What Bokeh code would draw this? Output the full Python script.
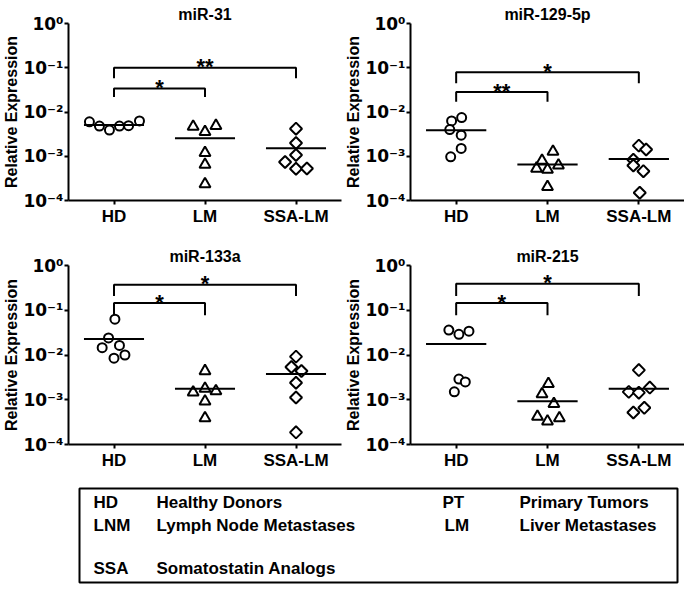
import numpy as np
from bokeh.plotting import figure
from bokeh.layouts import column, row
from bokeh.models import Range1d, FixedTicker, CustomJSTickFormatter
from bokeh.core.properties import value
from bokeh.embed import file_html
from bokeh.resources import INLINE

FONT = "Liberation Sans"
TICK_FONT = "DejaVu Sans"

groups = ["HD", "LM", "SSA-LM"]
titles = ["miR-31", "miR-129-5p", "miR-133a", "miR-215"]
y_ticks = [1e-4, 1e-3, 1e-2, 1e-1, 1.0]

# ---- data (relative expression) ----
mir31_hd = [6.0e-3, 4.8e-3, 3.9e-3, 4.8e-3, 4.9e-3, 6.3e-3]
mir31_lm = [4.7e-3, 3.55e-3, 4.9e-3, 1.2e-3, 6.5e-4, 2.35e-4]
mir31_ssa = [4.2e-3, 2.0e-3, 1.07e-3, 7.4e-4, 5.2e-4, 5.3e-4]

mir129_hd = [6.3e-3, 7.5e-3, 4.0e-3, 3.0e-3, 1.5e-3, 9.7e-4]
mir129_lm = [1.27e-3, 8.0e-4, 5.3e-4, 5.0e-4, 6.2e-4, 2.04e-4]
mir129_ssa = [1.74e-3, 1.42e-3, 8.3e-4, 6.2e-4, 4.6e-4, 1.5e-4]

mir133_hd = [6.3e-2, 2.4e-2, 1.46e-2, 1.64e-2, 8.5e-3, 1.0e-2]
mir133_lm = [4.4e-3, 1.46e-3, 1.78e-3, 1.56e-3, 9.2e-4, 3.9e-4]
mir133_ssa = [9.2e-3, 5.4e-3, 4.4e-3, 2.4e-3, 1.12e-3, 1.87e-4]

mir215_hd = [3.6e-2, 2.9e-2, 3.4e-2, 2.9e-3, 2.5e-3, 1.5e-3]
mir215_lm = [2.28e-3, 1.34e-3, 8.1e-4, 4.2e-4, 3.3e-4, 3.9e-4]
mir215_ssa = [4.6e-3, 1.5e-3, 1.44e-3, 1.87e-3, 6.6e-4, 5.2e-4]

# significance brackets: (log10 top, log10 end of drop) for HD-LM and HD-SSA-LM
mir31_brackets = [(-1.47, -1.66), (-1.0, -1.24)]
mir129_brackets = [(-1.55, -1.77), (-1.10, -1.35)]
mir133_brackets = [(-0.84, -1.11), (-0.43, -0.68)]
mir215_brackets = [(-0.84, -1.11), (-0.41, -0.68)]
mir31_stars = ["*", "**"]
mir129_stars = ["**", "*"]
mir133_stars = ["*", "*"]
mir215_stars = ["*", "*"]

legend_abbr = ["HD", "LNM", "SSA", "PT", "LM"]
legend_desc = ["Healthy Donors", "Lymph Node Metastases", "Somatostatin Analogs",
               "Primary Tumors", "Liver Metastases"]

# ---- layout constants (horizontal scatter of points, in category units) ----
jit31 = [[-0.27, -0.16, -0.05, 0.06, 0.16, 0.28], [-0.13, 0, 0.12, 0, 0, 0], [0, 0, 0, -0.12, 0, 0.12]]
jit129 = [[-0.05, 0.06, -0.07, 0.055, 0.055, -0.06], [0.06, -0.06, -0.12, 0, 0.12, 0], [0, 0.08, -0.06, -0.06, 0.05, 0.01]]
jit133 = [[0.01, -0.06, -0.13, 0.06, 0, 0.12], [0, -0.13, 0, 0.12, 0, 0], [0, -0.05, 0.06, 0, 0, 0]]
jit215 = [[-0.08, 0.03, 0.14, 0.03, 0.1, -0.02], [0.01, -0.06, 0.07, -0.11, 0, 0.13], [0, -0.11, 0, 0.12, 0.06, -0.06]]

SUP_JS = """
const sup = {'0':'\u2070','1':'\u00b9','2':'\u00b2','3':'\u00b3','4':'\u2074','-':'\u207b'};
const e = Math.round(Math.log10(tick));
return '10' + String(e).split('').map(c => sup[c]).join('');
"""


def panel(title, series, jits, brackets, stars, width, height, ml, mr, mt, mb):
    p = figure(width=width, height=height, x_range=Range1d(0.5, 3.5), y_range=Range1d(1e-4, 1.0),
               y_axis_type="log", output_backend="svg", toolbar_location=None,
               min_border_left=ml, min_border_right=mr, min_border_top=mt, min_border_bottom=mb,
               title=title)
    p.title.align = "center"
    p.title.text_font = FONT
    p.title.text_font_style = "bold"
    p.title.text_font_size = "16px"
    p.title.text_color = "black"
    p.title.standoff = 2
    p.title.offset = 0
    p.outline_line_color = None
    p.xgrid.visible = False
    p.ygrid.visible = False

    for ax in (p.xaxis[0], p.yaxis[0]):
        ax.axis_line_width = 2
        ax.axis_line_color = "black"
        ax.major_tick_line_width = 2
        ax.major_tick_line_color = "black"
        ax.major_tick_in = 0
        ax.minor_tick_line_color = None
        ax.major_label_text_font_style = "bold"
        ax.major_label_text_color = "black"
    p.xaxis.major_label_text_font = FONT
    p.xaxis.major_label_text_font_size = "17px"
    p.yaxis.major_label_text_font = TICK_FONT
    p.yaxis.major_label_text_font_size = "17px"
    p.xaxis.major_tick_out = 4
    p.xaxis.major_label_standoff = 2
    p.yaxis.major_tick_out = 4
    p.yaxis.major_label_standoff = 1

    p.xaxis.ticker = FixedTicker(ticks=[1, 2, 3], minor_ticks=[])
    p.xaxis.major_label_overrides = {i + 1: g for i, g in enumerate(groups)}
    p.yaxis.ticker = FixedTicker(ticks=y_ticks, minor_ticks=[])
    p.yaxis.formatter = CustomJSTickFormatter(code=SUP_JS)
    p.yaxis.axis_label = "Relative Expression"
    p.yaxis.axis_label_text_font = FONT
    p.yaxis.axis_label_text_font_style = "bold"
    p.yaxis.axis_label_text_font_size = "16px"
    p.yaxis.axis_label_text_color = "black"
    p.yaxis.axis_label_standoff = 0

    markers = [("circle", 9, 0), ("triangle", 11, 0), ("square", 8.5, np.pi / 4)]
    for i, (vals, jit) in enumerate(zip(series, jits)):
        xs = [i + 1 + j for j in jit]
        mk, sz, ang = markers[i]
        p.scatter(xs, vals, marker=mk, size=sz, angle=ang, fill_color="white",
                  line_color="black", line_width=2)
        m = float(np.mean(vals))
        p.segment(x0=[i + 1 - 0.33], y0=[m], x1=[i + 1 + 0.33], y1=[m],
                  line_color="black", line_width=2)

    for k, ((top, bot), star) in enumerate(zip(brackets, stars)):
        xe = k + 2
        yt, yb = 10 ** top, 10 ** bot
        p.line([1, 1, xe, xe], [yb, yt, yt, yb], line_color="black", line_width=2)
        p.text(x=[(1 + xe) / 2], y=[yt], text=[star], text_font=value(FONT),
               text_font_style="bold", text_font_size="22px", text_align="center",
               text_baseline="alphabetic", y_offset=-1, text_color="black")
    return p


p1 = panel(titles[0], [mir31_hd, mir31_lm, mir31_ssa], jit31, mir31_brackets, mir31_stars,
           342, 234, 62, 1, 23, 28)
p2 = panel(titles[1], [mir129_hd, mir129_lm, mir129_ssa], jit129, mir129_brackets, mir129_stars,
           342, 234, 65, 0, 20, 34)
p3 = panel(titles[2], [mir133_hd, mir133_lm, mir133_ssa], jit133, mir133_brackets, mir133_stars,
           342, 238, 62, 1, 31, 26)
p4 = panel(titles[3], [mir215_hd, mir215_lm, mir215_ssa], jit215, mir215_brackets, mir215_stars,
           342, 238, 65, 0, 31, 26)

# ---- legend box ----
LW, LH = 598, 94
leg = figure(width=684, height=112, x_range=Range1d(0, LW), y_range=Range1d(LH, 0),
             output_backend="svg", toolbar_location=None,
             min_border_left=79, min_border_right=7, min_border_top=16, min_border_bottom=2)
leg.axis.visible = False
leg.grid.visible = False
leg.outline_line_color = "black"
leg.outline_line_width = 2
abbr_x = [14, 14, 14, 363, 365]
desc_x = [77, 77, 77, 440, 440]
row_y = [14, 37, 80, 14, 37]
leg.text(x=abbr_x, y=row_y, text=legend_abbr, text_font=value(FONT), text_font_style="bold",
         text_font_size="17px", text_baseline="middle", text_color="black")
leg.text(x=desc_x, y=row_y, text=legend_desc, text_font=value(FONT), text_font_style="bold",
         text_font_size="17px", text_baseline="middle", text_color="black")

layout = column(row(p1, p2), row(p3, p4), leg)
open("out.html", "w").write(file_html(layout, INLINE))
